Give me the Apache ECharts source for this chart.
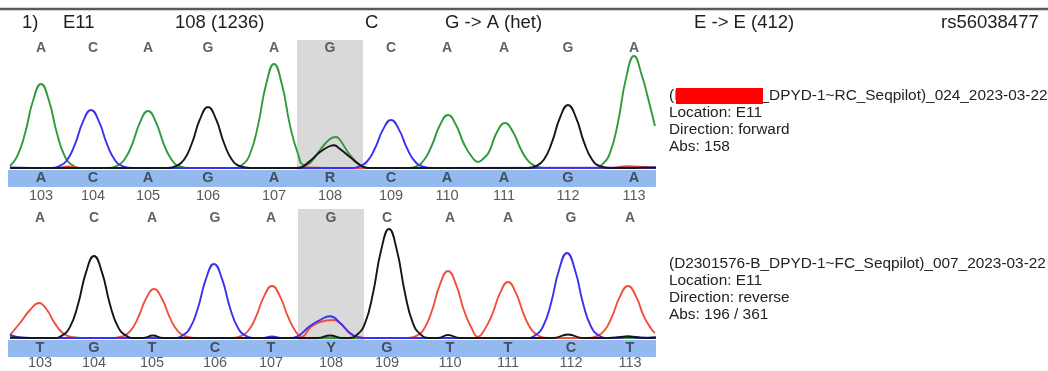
<!DOCTYPE html>
<html>
<head>
<meta charset="utf-8">
<title>DPYD E11 chromatogram</title>
<script src="https://cdn.jsdelivr.net/npm/echarts@6/dist/echarts.min.js"></script>
<style>
  html, body { margin: 0; padding: 0; background: #ffffff; }
  #chart { width: 1048px; height: 371px; }
</style>
</head>
<body>
<div id="chart"></div>
<script>
// ---- Variant header ----
const headerFields = ['1)', 'E11', '108 (1236)', 'C', 'G -> A (het)', 'E -> E (412)', 'rs56038477'];

// ---- Read information ----
const fwdInfo = ['(D2301576-B_DPYD-1~RC_Seqpilot)_024_2023-03-22', 'Location: E11', 'Direction: forward', 'Abs: 158'];
const revInfo = ['(D2301576-B_DPYD-1~FC_Seqpilot)_007_2023-03-22', 'Location: E11', 'Direction: reverse', 'Abs: 196 / 361'];

// ---- Bases ----
const refBases = ['A', 'C', 'A', 'G', 'A', 'G', 'C', 'A', 'A', 'G', 'A'];
const fwdCalls = ['A', 'C', 'A', 'G', 'A', 'R', 'C', 'A', 'A', 'G', 'A'];
const revCalls = ['T', 'G', 'T', 'C', 'T', 'Y', 'G', 'T', 'T', 'C', 'T'];
const basePositions = ['103', '104', '105', '106', '107', '108', '109', '110', '111', '112', '113'];
const variantIndex = 5;

// Scan location of each base call in the trace window
const fwdBaseScan = [33, 85, 140, 200, 266, 322, 383, 439, 496, 560, 626];
const revBaseScan = [32, 86, 144, 207, 263, 323, 379, 442, 500, 563, 622];

// ---- Forward read traces: [scan, signal] ----
const fwdTraceA = [
  [2, 20], [9, 113], [17, 344], [25, 672], [33, 840], [41, 672], [49, 344], [57, 113], [65, 25], [75, 0], [100, 0],
  [108, 17], [116, 77], [124, 234], [132, 456], [140, 570], [148, 456], [156, 234], [164, 77], [172, 17], [182, 0], [224, 0],
  [234, 31], [242, 140], [250, 426], [258, 832], [266, 1040], [274, 832], [282, 426], [290, 140], [296, 30],
  [302, 50], [312, 180], [322, 290], [328, 310], [332, 280], [342, 130], [352, 30], [360, 0], [400, 0],
  [408, 15], [416, 80], [424, 230], [432, 430], [440, 530], [448, 430], [456, 240], [464, 110], [470, 60],
  [476, 100], [481, 160], [489, 360], [497, 450], [505, 360], [513, 185], [521, 61], [529, 14], [537, 0], [586, 0],
  [594, 34], [602, 151], [610, 459], [618, 896], [626, 1120], [634, 920], [640, 700], [647, 420]
];
const fwdTraceC = [
  [2, 5], [43, 0], [51, 17], [59, 78], [67, 238], [75, 464], [83, 580], [91, 464], [99, 238], [107, 78], [115, 17], [125, 0],
  [345, 0], [351, 14], [359, 65], [367, 197], [375, 384], [383, 480], [391, 384], [399, 197], [407, 65], [415, 14], [425, 0],
  [648, 3]
];
const fwdTraceG = [
  [2, 0], [160, 0], [168, 18], [176, 82], [184, 250], [192, 488], [200, 610], [208, 488], [216, 250], [224, 82], [232, 18], [242, 0],
  [290, 0], [302, 70], [312, 160], [322, 220], [326, 228], [332, 190], [342, 110], [352, 30], [360, 0],
  [520, 0], [528, 19], [536, 85], [544, 258], [552, 504], [560, 630], [568, 504], [576, 258], [584, 85], [592, 19], [602, 0],
  [648, 5]
];
const fwdTraceT = [
  [2, 0], [50, 0], [60, 15], [70, 0], [280, 0], [300, 5], [320, 0], [600, 0], [620, 18], [636, 10], [648, 0]
];

// ---- Reverse read traces: [scan, signal] ----
const revTraceA = [
  [2, 0], [55, 0], [65, 6], [75, 0], [648, 0]
];
const revTraceC = [
  [2, 30], [10, 8], [20, 0], [166, 0],
  [174, 22], [182, 100], [190, 303], [198, 592], [206, 740], [214, 592], [222, 303], [230, 100], [238, 22], [248, 0],
  [255, 0], [264, 15], [273, 0], [282, 0],
  [290, 20], [302, 120], [312, 180], [322, 217], [332, 150], [342, 50], [349, 10], [356, 0], [519, 0],
  [527, 25], [535, 115], [543, 348], [551, 680], [559, 850], [567, 680], [575, 348], [583, 115], [591, 25], [600, 0],
  [610, 0], [620, 15], [632, 0], [648, 5]
];
const revTraceG = [
  [2, 5], [46, 0], [54, 24], [62, 111], [70, 336], [78, 656], [86, 820], [94, 656], [102, 336], [110, 111], [118, 24], [126, 0],
  [135, 0], [145, 25], [155, 0], [310, 0], [322, 25], [334, 0], [341, 0],
  [349, 32], [357, 147], [365, 447], [373, 872], [381, 1090], [389, 872], [397, 447], [405, 147], [413, 32], [421, 0],
  [430, 0], [440, 30], [452, 0], [545, 0], [560, 35], [575, 0], [600, 0], [620, 15], [640, 0], [648, 5]
];
const revTraceT = [
  [2, 30], [12, 150], [22, 280], [31, 350], [39, 280], [47, 144], [55, 47], [63, 10], [70, 0], [106, 0],
  [114, 15], [122, 66], [130, 201], [138, 392], [146, 490], [154, 392], [162, 201], [170, 66], [178, 15], [186, 0], [224, 0],
  [232, 16], [240, 70], [248, 213], [256, 416], [264, 520], [272, 416], [280, 213], [288, 60], [294, 12],
  [302, 100], [312, 160], [325, 180], [332, 150], [342, 45], [350, 8], [358, 0], [400, 0],
  [408, 19], [416, 90], [424, 275], [432, 536], [440, 670], [448, 536], [456, 275], [464, 90], [470, 12],
  [476, 75], [484, 230], [492, 448], [500, 560], [508, 448], [516, 230], [524, 76], [532, 16], [540, 0], [580, 0],
  [588, 16], [596, 70], [604, 213], [612, 416], [620, 520], [628, 416], [636, 213], [644, 80], [647, 50]
];

// ---- Look ----
const FONT = "'Liberation Sans', Arial, Helvetica, sans-serif";
const DYE = { A: '#2f9a3c', C: '#3b2ff0', G: '#151515', T: '#ef4f3b' };
const SCAN_MAX = 648;
const HALF_BOX = 33;            // half width of the variant highlight, in scans
const headerX = [22, 63, 175, 365, 445, 694, 941];

const chart = echarts.init(document.getElementById('chart'), null, { renderer: 'canvas' });

// Row levels (signal units) for the text rows and the call bar of each panel
const rows = [
  { ref: 1200, call: -100, num: -280 },
  { ref: 1200, call: -100, num: -250 }
];

function traceSeries(g, data, color) {
  return {
    type: 'line', xAxisIndex: g, yAxisIndex: g, data: data,
    smooth: 0.5, showSymbol: false, symbol: 'none', silent: true,
    lineStyle: { color: color, width: 1.9 }, z: 3
  };
}

function textRow(g, scans, texts, level, style) {
  return {
    type: 'scatter', xAxisIndex: g, yAxisIndex: g, silent: true, z: 5,
    symbolSize: 1, itemStyle: { color: 'rgba(0,0,0,0)' },
    data: scans.map(s => [s, level]),
    label: Object.assign({
      show: true, position: 'inside', fontFamily: FONT,
      formatter: p => texts[p.dataIndex]
    }, style)
  };
}

function decorSeries(g, variantScan) {
  return {
    type: 'line', xAxisIndex: g, yAxisIndex: g, data: [], silent: true, z: 1,
    markArea: {
      silent: true, label: { show: false },
      data: [
        [{ coord: [variantScan - HALF_BOX, g === 0 ? 1280 : 1290], itemStyle: { color: '#d9d9d9' } },
         { coord: [variantScan + HALF_BOX, -20] }],
        [{ coord: [0, -20], itemStyle: { color: '#93b9ef' } },
         { coord: [SCAN_MAX, -190] }]
      ]
    }
  };
}

const refStyle = { fontSize: 14, fontWeight: 'bold', color: '#3a3a3a' };
const callStyle = { fontSize: 14.5, fontWeight: 'bold', color: '#2e3440' };
const numStyle = { fontSize: 14.5, color: '#2e2e2e' };

const series = [
  decorSeries(0, fwdBaseScan[variantIndex]),
  decorSeries(1, revBaseScan[variantIndex]),
  traceSeries(0, fwdTraceA, DYE.A),
  traceSeries(0, fwdTraceT, DYE.T),
  traceSeries(0, fwdTraceC, DYE.C),
  traceSeries(0, fwdTraceG, DYE.G),
  traceSeries(1, revTraceA, DYE.A),
  traceSeries(1, revTraceT, DYE.T),
  traceSeries(1, revTraceC, DYE.C),
  traceSeries(1, revTraceG, DYE.G),
  textRow(0, fwdBaseScan, refBases, rows[0].ref, refStyle),
  textRow(0, fwdBaseScan, fwdCalls, rows[0].call, callStyle),
  textRow(0, fwdBaseScan, basePositions, rows[0].num, numStyle),
  textRow(1, revBaseScan, refBases, rows[1].ref, refStyle),
  textRow(1, revBaseScan, revCalls, rows[1].call, callStyle),
  textRow(1, revBaseScan, basePositions, rows[1].num, numStyle)
];

// Header texts, info blocks and the redaction mark
const graphics = [
  { type: 'line', shape: { x1: 0, y1: 9, x2: 1048, y2: 9 }, style: { stroke: '#5a5a5a', lineWidth: 2.5 }, silent: true }
];
headerFields.forEach((t, i) => graphics.push({
  type: 'text', x: headerX[i], y: 23, silent: true,
  style: { text: t, fill: '#1e1e1e', font: '18.5px ' + FONT, textVerticalAlign: 'middle', verticalAlign: 'middle' }
}));
function infoBlock(lines, top) {
  lines.forEach((t, i) => graphics.push({
    type: 'text', x: 669, y: top + i * 17, silent: true,
    style: { text: t, fill: '#222222', font: '15.4px ' + FONT, textVerticalAlign: 'middle', verticalAlign: 'middle' }
  }));
}
infoBlock(fwdInfo, 96);
infoBlock(revInfo, 264);
graphics.push({ type: 'rect', z: 100, silent: true, shape: { x: 676, y: 88, width: 87, height: 16 }, style: { fill: '#ff0000' } });

chart.setOption({
  animation: false,
  backgroundColor: '#ffffff',
  grid: [
    { left: 8, width: 648, top: 40, height: 160 },
    { left: 8, width: 648, top: 208, height: 163 }
  ],
  xAxis: [
    { type: 'value', gridIndex: 0, min: 0, max: SCAN_MAX, show: false },
    { type: 'value', gridIndex: 1, min: 0, max: SCAN_MAX, show: false }
  ],
  yAxis: [
    { type: 'value', gridIndex: 0, min: -320, max: 1280, show: false },
    { type: 'value', gridIndex: 1, min: -330, max: 1300, show: false }
  ],
  series: series,
  graphic: graphics
});
</script>
</body>
</html>
